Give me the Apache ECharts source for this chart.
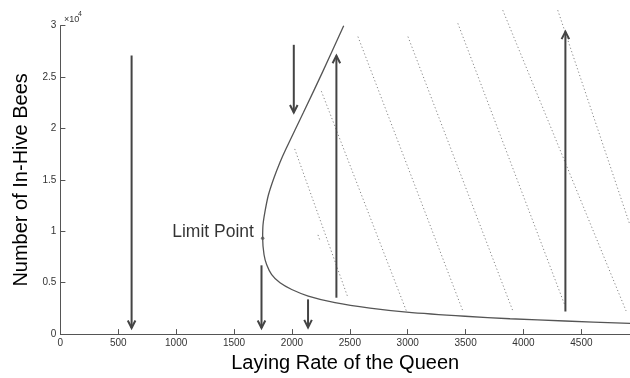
<!DOCTYPE html>
<html>
<head>
<meta charset="utf-8">
<script src="https://cdn.jsdelivr.net/npm/echarts@6/dist/echarts.min.js"></script>
<style>
  html, body { margin: 0; padding: 0; background: #fff; }
  #chart { width: 630px; height: 378px; }
</style>
</head>
<body>
<div id="chart"></div>
<script>
// Equilibrium curve [laying rate, in-hive bees], ordered by bee count
const equilibriumCurve = [
  [4920, 1051], [4359, 1273], [3884, 1495], [3495, 1736], [2991, 2141],
  [2674, 2527], [2372, 3058], [2141, 3704], [1998, 4341], [1897, 4987],
  [1825, 5788], [1782, 6753], [1759, 7717], [1747, 9330], [1750, 10611],
  [1767, 11903], [1796, 13505], [1842, 15115], [1897, 16726], [1948, 18010],
  [2099, 21549], [2266, 25533], [2447, 30000]
];

// Fold of the curve
const limitPoint = [1747, 9330];

// Direction arrows: [laying rate, start bees, end bees]
const flowArrows = [
  [615, 27100, 600],
  [2016, 28140, 21550],
  [1737, 6690, 600],
  [2139, 3380, 650],
  [2384, 3540, 27080],
  [4362, 2190, 29420]
];

// Simulated trajectories (dotted), each a list of [laying rate, bees]
const trajectoryA = [[2024, 18010], [2484, 3540]];
const trajectoryB = [[2254, 23630], [2988, 2257]];
const trajectoryC = [[2570, 28940], [3476, 2257]];
const trajectoryD = [[3002, 28940], [3908, 2257]];
const trajectoryE = [[3433, 30230], [4354, 2894]];
const trajectoryF = [[3821, 31510], [4886, 2257]];
const trajectoryG = [[4296, 31510], [4920, 10600]];
const trajectoryH = [[2225, 9650], [2240, 9160]];
const trajectories = [trajectoryA, trajectoryB, trajectoryC, trajectoryD,
                      trajectoryE, trajectoryF, trajectoryG, trajectoryH];

// Axis ticks and labels
const xTicks = [0, 500, 1000, 1500, 2000, 2500, 3000, 3500, 4000, 4500];
const yTicks = [0, 5000, 10000, 15000, 20000, 25000, 30000];
const yTickLabels = ['0', '0.5', '1', '1.5', '2', '2.5', '3'];

const FONT = "'Liberation Sans', Arial, Helvetica, sans-serif";
const chart = echarts.init(document.getElementById('chart'), null, { renderer: 'canvas' });

const trajectorySeries = trajectories.map(function (pts) {
  return {
    type: 'line',
    data: pts,
    symbol: 'none',
    clip: false,
    silent: true,
    lineStyle: { color: '#888', width: 1, type: [1.2, 2.4] },
    z: 1
  };
});

chart.setOption({
  animation: false,
  backgroundColor: '#fff',
  grid: { left: 60.4, right: 0, top: 25.7, bottom: 41.3, containLabel: false },
  xAxis: {
    type: 'value',
    min: 0,
    max: 4920,
    interval: 500,
    name: 'Laying Rate of the Queen',
    nameLocation: 'middle',
    nameGap: 15,
    nameTextStyle: { fontFamily: FONT, fontSize: 20, color: '#000' },
    splitLine: { show: false },
    axisLine: { lineStyle: { color: '#555', width: 1 } },
    axisTick: { inside: true, length: 5, lineStyle: { color: '#555' }, customValues: xTicks },
    axisLabel: {
      fontFamily: FONT, fontSize: 10, color: '#333', margin: 4, customValues: xTicks,
      formatter: function (v) { return String(v); }
    }
  },
  yAxis: {
    type: 'value',
    min: 0,
    max: 30000,
    interval: 5000,
    name: 'Number of In-Hive Bees',
    nameLocation: 'middle',
    nameGap: 24,
    nameTextStyle: { fontFamily: FONT, fontSize: 20, color: '#000' },
    splitLine: { show: false },
    axisLine: { lineStyle: { color: '#555', width: 1 } },
    axisTick: { inside: true, length: 5, lineStyle: { color: '#555' } },
    axisLabel: {
      fontFamily: FONT, fontSize: 10, color: '#333', margin: 4,
      formatter: function (v) {
        const i = yTicks.indexOf(v);
        return i >= 0 ? yTickLabels[i] : '';
      }
    }
  },
  graphic: [
    { type: 'text', left: 64, top: 15, style: { text: '×10', fontFamily: FONT, fontSize: 9, fill: '#333' } },
    { type: 'text', left: 78, top: 11, style: { text: '4', fontFamily: FONT, fontSize: 7, fill: '#333' } }
  ],
  series: trajectorySeries.concat([
    {
      type: 'line',
      data: equilibriumCurve,
      symbol: 'none',
      smooth: 0.3,
      lineStyle: { color: '#555', width: 1.3 },
      z: 3
    },
    {
      type: 'scatter',
      data: [limitPoint],
      symbol: 'circle',
      symbolSize: 3.5,
      itemStyle: { color: '#555' },
      label: {
        show: true,
        position: 'left',
        distance: 7,
        offset: [0, -6],
        formatter: 'Limit Point',
        fontFamily: FONT,
        fontSize: 17.5,
        color: '#000'
      },
      z: 4
    },
    {
      type: 'custom',
      data: flowArrows,
      clip: false,
      z: 5,
      renderItem: function (params, api) {
        const x = api.value(0), ya = api.value(1), yb = api.value(2);
        const p0 = api.coord([x, ya]);
        const p1 = api.coord([x, yb]);
        const dir = p1[1] > p0[1] ? 1 : -1;
        const hl = 7.5, hw = 3.8;
        const stroke = { stroke: '#444', lineWidth: 2, fill: null };
        return {
          type: 'group',
          children: [
            { type: 'line', shape: { x1: p0[0], y1: p0[1], x2: p1[0], y2: p1[1] }, style: stroke },
            { type: 'polyline', shape: { points: [[p1[0] - hw, p1[1] - dir * hl], [p1[0], p1[1]], [p1[0] + hw, p1[1] - dir * hl]] }, style: stroke }
          ]
        };
      }
    }
  ])
});
</script>
</body>
</html>
